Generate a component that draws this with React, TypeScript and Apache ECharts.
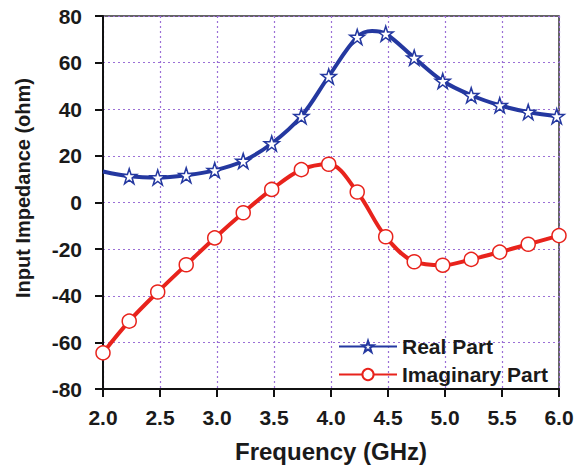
import React, { useEffect, useRef } from "react";
import * as echarts from "echarts";

const realFreq = [2.0, 2.23, 2.48, 2.73, 2.98, 3.23, 3.48, 3.74, 3.98, 4.23, 4.36, 4.48, 4.73, 4.98, 5.23, 5.48, 5.73, 5.98, 6.0];
const realVals = [13.3, 11.3, 10.7, 11.7, 13.8, 17.8, 25.3, 37.0, 54.1, 71.0, 73.6, 72.4, 62.1, 52.1, 46.0, 41.7, 38.8, 37.0, 36.9];
const realMarker = [false, true, true, true, true, true, true, true, true, true, false, true, true, true, true, true, true, true, false];

const imagFreq = [2.0, 2.23, 2.48, 2.73, 2.98, 3.23, 3.48, 3.74, 3.98, 4.23, 4.48, 4.73, 4.98, 5.23, 5.48, 5.73, 6.0];
const imagVals = [-64.5, -50.9, -38.4, -26.7, -15.2, -4.4, 5.6, 14.1, 16.4, 4.5, -14.7, -25.4, -26.9, -24.4, -21.3, -17.9, -14.2];

const xTicks = { min: 2.0, max: 6.0, interval: 0.5 };
const yTicks = { min: -80, max: 80, interval: 20 };

const yTitle = "Input Impedance (ohm)";
const xTitle = "Frequency (GHz)";

const STAR =
  "path://M50,0 L61.8,35.1 L98.9,35.1 L68.8,56.8 L80.3,91.9 L50,70.1 L19.7,91.9 L31.2,56.8 L1.1,35.1 L38.2,35.1 Z";

const FONT = "'Liberation Sans', Arial, sans-serif";

export default function App() {
  const ref = useRef<HTMLDivElement>(null);
  useEffect(() => {
    if (!ref.current) return;
    const chart = echarts.init(ref.current, null, { renderer: "svg" });
    const gridLine = { show: true, lineStyle: { color: "#9b6fd6", type: [2, 3] as any, width: 1.2 } };
    const axisLine = { show: true, onZero: false, lineStyle: { color: "#111", width: 2 } };
    const axisTick = { show: true, inside: false, length: 8, lineStyle: { color: "#111", width: 2 } };
    const label = { fontFamily: FONT, fontWeight: "bold", fontSize: 21, color: "#1a1a1a" };
    chart.setOption({
      animation: false,
      backgroundColor: "#ffffff",
      textStyle: { fontFamily: FONT },
      grid: {
        left: 103,
        right: 24,
        top: 16,
        bottom: 80,
        show: true,
        borderColor: "#333",
        borderWidth: 1.5,
      },
      legend: {
        left: 333,
        top: 331,
        orient: "vertical",
        itemWidth: 58,
        itemHeight: 14,
        itemGap: 7,
        textStyle: { fontFamily: FONT, fontWeight: "bold", fontSize: 21, color: "#1a1a1a" },
        data: ["Real Part", "Imaginary Part"],
      },
      graphic: [
        {
          type: "text",
          x: 23,
          y: 188,
          rotation: Math.PI / 2,
          style: {
            text: yTitle,
            fontFamily: FONT,
            fontWeight: "bold",
            fontSize: 20,
            fill: "#1a1a1a",
            textAlign: "center",
            textVerticalAlign: "middle",
          },
        },
      ],
      xAxis: {
        type: "value",
        min: xTicks.min,
        max: xTicks.max,
        interval: xTicks.interval,
        name: xTitle,
        nameLocation: "middle",
        nameGap: 50,
        nameTextStyle: { fontFamily: FONT, fontWeight: "bold", fontSize: 24, color: "#1a1a1a" },
        axisLine,
        axisTick,
        axisLabel: { ...label, margin: 18, formatter: (v: number) => v.toFixed(1) },
        splitLine: gridLine,
      },
      yAxis: {
        type: "value",
        min: yTicks.min,
        max: yTicks.max,
        interval: yTicks.interval,
        axisLine,
        axisTick,
        axisLabel: { ...label, margin: 21 },
        splitLine: gridLine,
      },
      series: [
        {
          name: "Real Part",
          type: "line",
          smooth: 0.35,
          symbol: STAR,
          symbolSize: 15,
          color: "#2438a0",
          lineStyle: { color: "#2438a0", width: 4 },
          itemStyle: { color: "#ffffff", borderColor: "#2438a0", borderWidth: 1.5 },
          z: 3,
          data: realFreq.map((f, i) =>
            realMarker[i] ? [f, realVals[i]] : { value: [f, realVals[i]], symbol: "none" }
          ),
        },
        {
          name: "Imaginary Part",
          type: "line",
          smooth: 0.35,
          symbol: "circle",
          symbolSize: 14,
          color: "#e8231c",
          lineStyle: { color: "#e8231c", width: 4 },
          itemStyle: { color: "#ffffff", borderColor: "#e8231c", borderWidth: 1.5 },
          z: 2,
          data: imagFreq.map((f, i) => [f, imagVals[i]]),
        },
      ],
    });
    return () => chart.dispose();
  }, []);
  return <div ref={ref} style={{ width: 583, height: 469, marginLeft: -8, marginTop: -8 }} />;
}
